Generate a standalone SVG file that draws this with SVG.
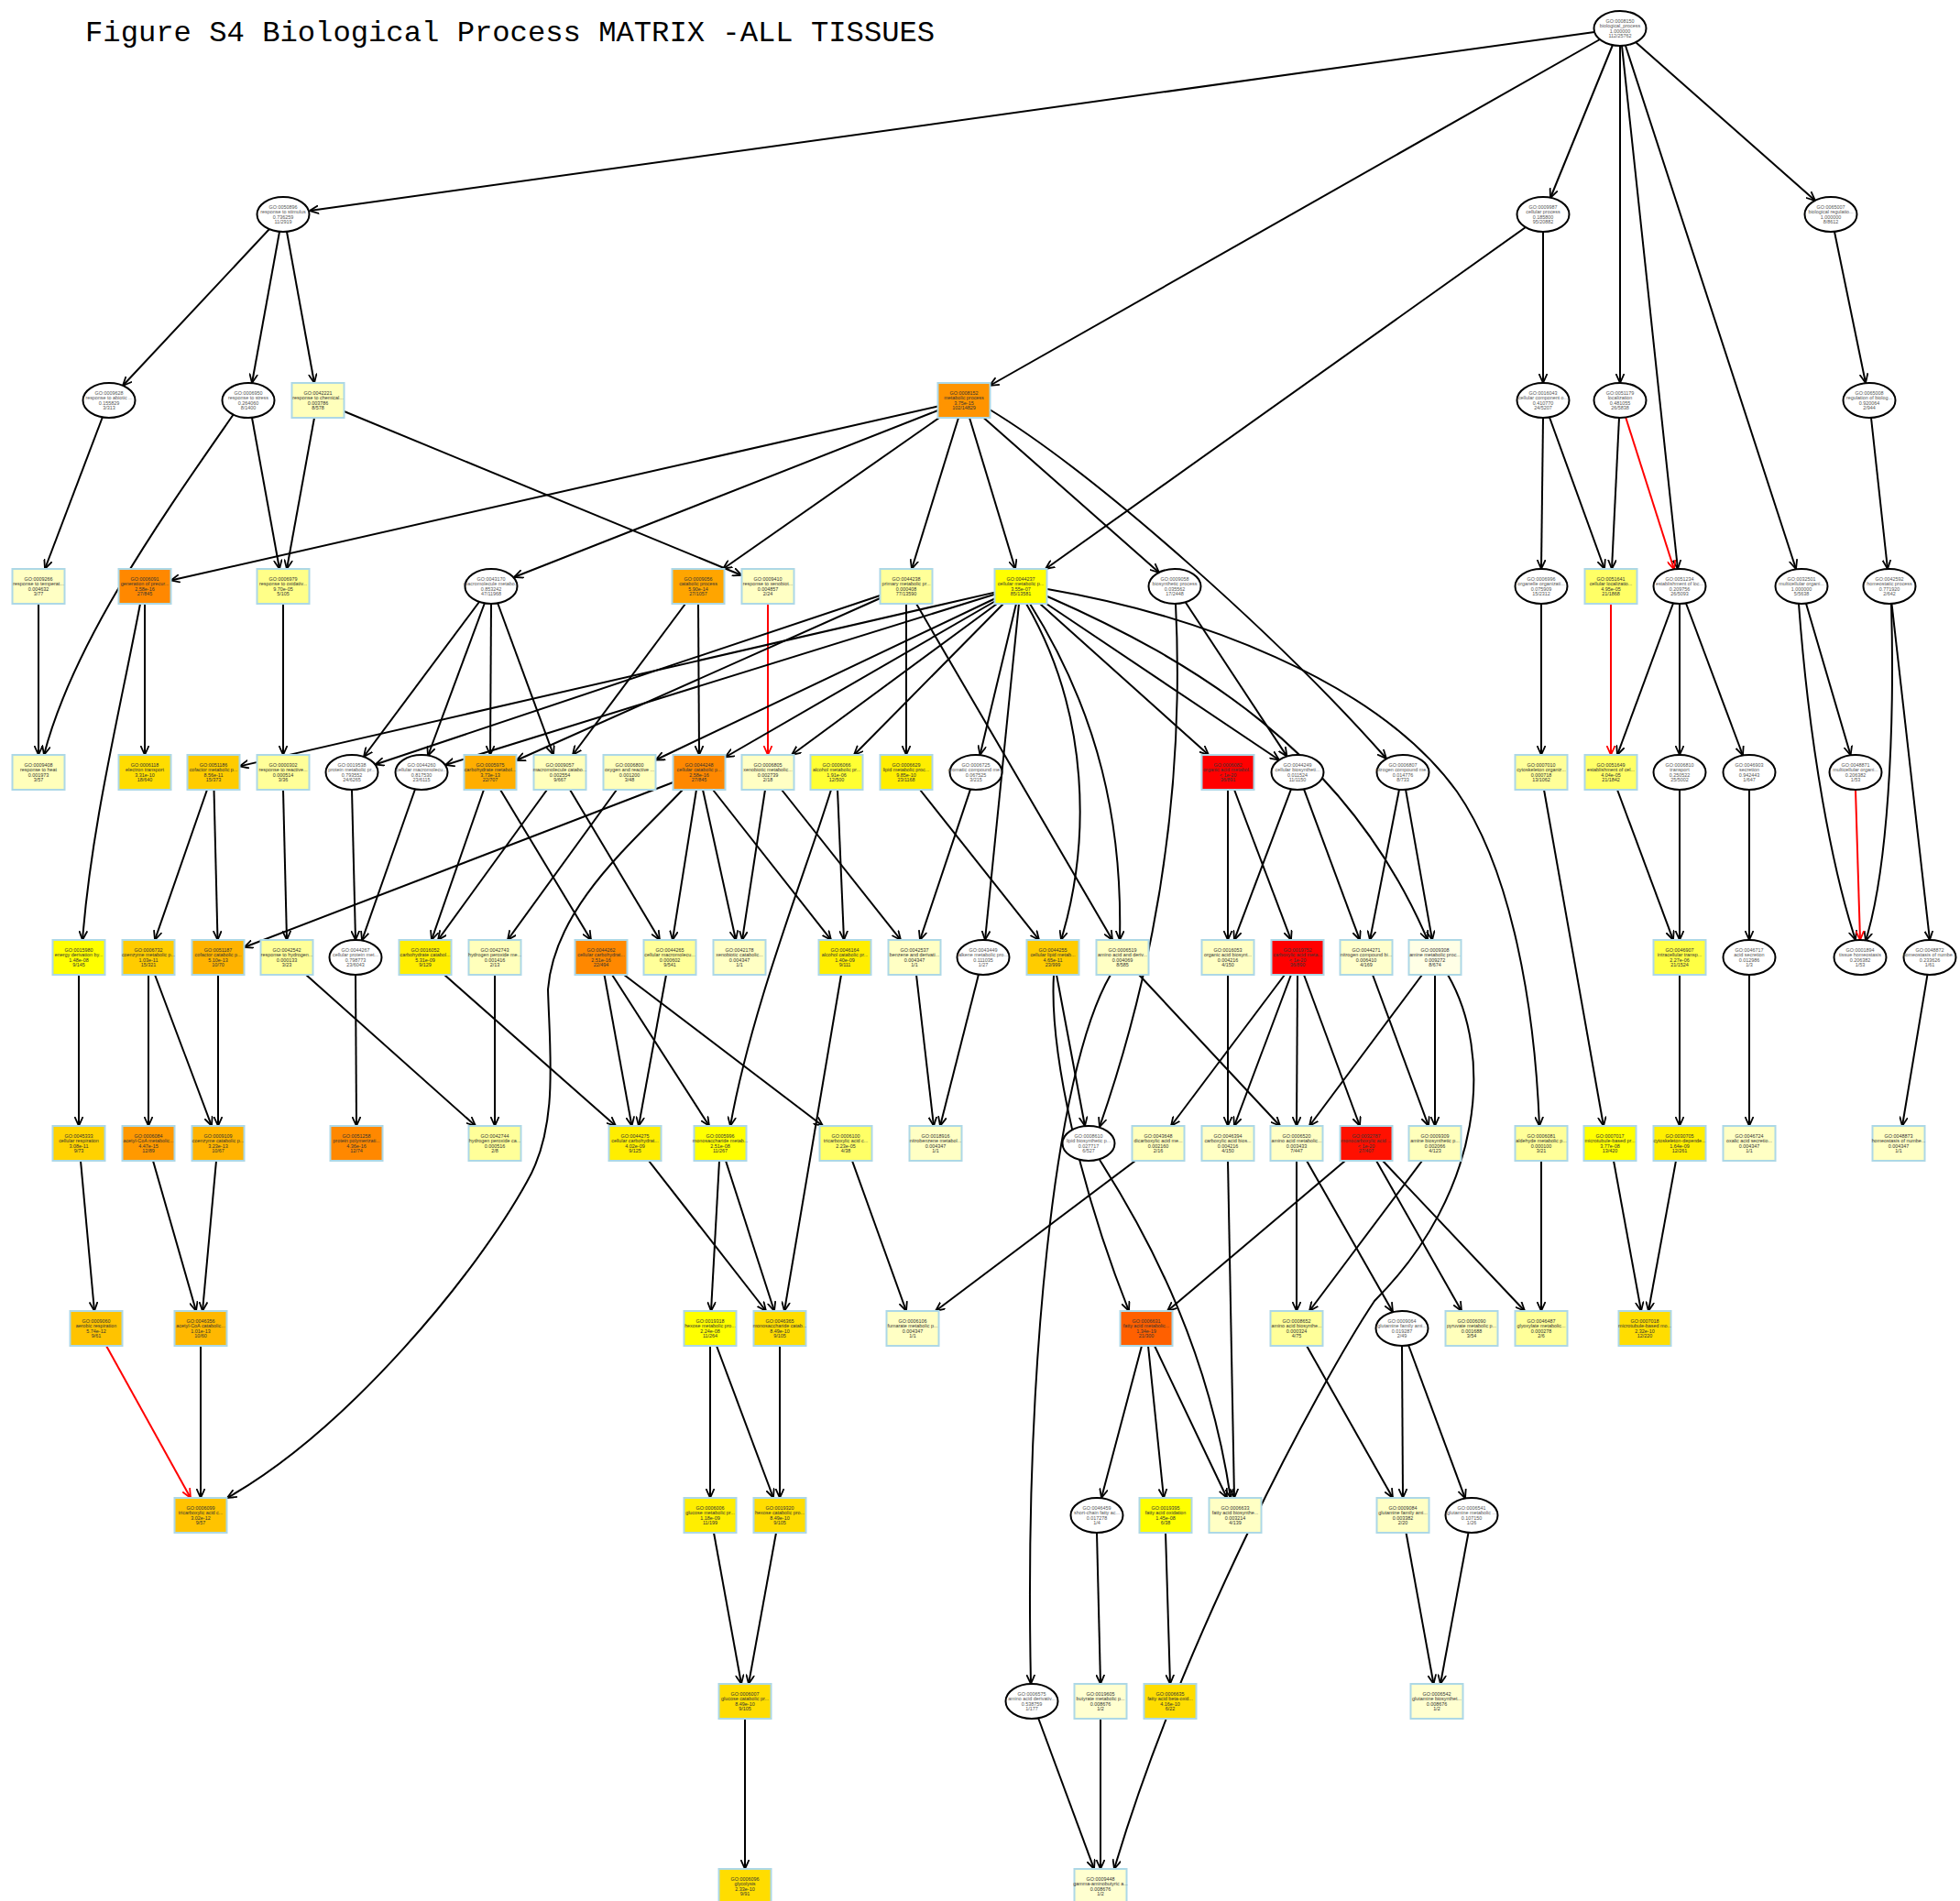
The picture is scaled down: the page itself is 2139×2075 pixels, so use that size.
<svg xmlns="http://www.w3.org/2000/svg" width="2139" height="2075" viewBox="0 0 2139 2075">
<defs>
<marker id="ab" viewBox="0 0 10 10" refX="10" refY="5" markerWidth="10" markerHeight="10" markerUnits="userSpaceOnUse" orient="auto"><path d="M0,0.5 L10,5 L0,9.5" fill="none" stroke="#000" stroke-width="1.8"/></marker>
<marker id="ar" viewBox="0 0 10 10" refX="10" refY="5" markerWidth="10" markerHeight="10" markerUnits="userSpaceOnUse" orient="auto"><path d="M0,0.5 L10,5 L0,9.5" fill="none" stroke="#f00" stroke-width="1.8"/></marker>
<style>
.ed path{fill:none;stroke:#000;stroke-width:2;marker-end:url(#ab)}
.ed path.r{stroke:#f00;marker-end:url(#ar)}
.b{stroke:#add8e6;stroke-width:2}
.e{fill:#fff;stroke:#000;stroke-width:2}
text.t{font-family:"Liberation Sans",Arial,sans-serif;font-size:5.4px;text-anchor:middle;fill:#333}
text.te{font-family:"Liberation Sans",Arial,sans-serif;font-size:5.4px;text-anchor:middle;fill:#555}
.title{font-family:"Liberation Mono","Courier New",monospace;font-size:32.2px;fill:#000}
</style>
</defs>
<rect width="2139" height="2075" fill="#fff"/>
<text class="title" x="93" y="45">Figure S4 Biological Process MATRIX -ALL TISSUES</text>
<g id="edges" class="ed">
<path d="M1740,35 L338,230"/>
<path d="M1746,43 L1080,421"/>
<path d="M1760,49 L1692,216"/>
<path d="M1768,50 L1768,418"/>
<path d="M1770,50 L1831,621"/>
<path d="M1774,50 L1960,621"/>
<path d="M1785,46 L1981,219"/>
<path d="M294,250 L134,421"/>
<path d="M305,253 L275,418"/>
<path d="M313,253 L343,418"/>
<path d="M1665,248 L1141,621"/>
<path d="M1684,253 L1684,418"/>
<path d="M2002,253 L2036,418"/>
<path d="M112,455 L49,621"/>
<path d="M255,452 C180,560 80,700 48,824"/>
<path d="M275,456 L305,621"/>
<path d="M343,456 L313,621"/>
<path d="M375.5,449 L809.5,628"/>
<path d="M1023.5,443.5 L186.5,633.5"/>
<path d="M1023.5,448 L561,630"/>
<path d="M1025,456 L789,621"/>
<path d="M1046,456 L995,621"/>
<path d="M1058,456 L1108,621"/>
<path d="M1073.5,456 L1265,625"/>
<path d="M1080,447 C1200,520 1400,700 1513,828"/>
<path d="M1684,456 L1682,621"/>
<path d="M1691,455.5 L1751,621"/>
<path d="M1767,456 L1759,621"/>
<path class="r" d="M1774,455 L1827,621.5"/>
<path d="M2042,456 L2060,621"/>
<path d="M42,659 L42,824"/>
<path d="M158,659 L158,824"/>
<path d="M153,659 C130,780 100,900 90,1026"/>
<path d="M309,659 L309,824"/>
<path d="M523,657 L397,826"/>
<path d="M529,658 L467,825"/>
<path d="M536,659 L535,824"/>
<path d="M543,658 L604,824"/>
<path d="M748,659 L625,824"/>
<path d="M762,659 L763,824"/>
<path class="r" d="M838,659 L838,824"/>
<path d="M960.5,650 L409.5,834.5"/>
<path d="M960.5,653 L563.5,830"/>
<path d="M989,659 L989,824"/>
<path d="M1000,659 L1214,1026"/>
<path d="M1085.5,646.6 L261.5,836.4"/>
<path d="M1085.5,648.8 L486,835"/>
<path d="M1085.5,653.5 L715.5,829.5"/>
<path d="M1085.5,656.5 L791.5,826.5"/>
<path d="M1088,659 L864,824"/>
<path d="M1095,659 L932,824"/>
<path d="M1109,659 L1069.5,824"/>
<path d="M1112,659 L1075,1026"/>
<path d="M1120,659 C1190,780 1190,920 1158,1026"/>
<path d="M1124,659 C1200,780 1225,900 1222,1026"/>
<path d="M1135,659 L1319,824"/>
<path d="M1142,659 L1396,829.5"/>
<path d="M1143,651 C1300,720 1470,820 1558,1026"/>
<path d="M1143,643 C1300,670 1500,740 1590,864 C1650,950 1675,1100 1680,1229"/>
<path d="M1293.5,657 L1404.5,825.6"/>
<path d="M1283,659 C1290,800 1280,1000 1200,1230"/>
<path d="M1340,862 L1340,1026"/>
<path d="M1347,862 L1409,1026"/>
<path d="M1409,861.4 L1347,1026"/>
<path d="M1423,861.4 L1484,1026"/>
<path d="M1527,861.7 L1495,1026"/>
<path d="M1534,861.7 L1563,1026"/>
<path d="M1682,659 L1682,824"/>
<path class="r" d="M1758,659 L1758,824"/>
<path d="M1826,658.5 L1765,824"/>
<path d="M1833,659 L1833,824"/>
<path d="M1840,658.5 L1902,824.5"/>
<path d="M1971,658.7 L2019.6,824.3"/>
<path d="M1963,659 C1975,820 2000,950 2025,1026"/>
<path d="M2064,659 C2068,800 2060,950 2036,1027"/>
<path d="M2064.5,659 L2106,1026"/>
<path d="M1833,862 L1833,1026"/>
<path d="M1765,862 L1826,1026"/>
<path d="M1909,862 L1909,1026"/>
<path class="r" d="M2025,862 L2030,1026"/>
<path d="M86,1064 L86,1229"/>
<path d="M162,1064 L162,1229"/>
<path d="M169,1064 L231,1229"/>
<path d="M238,1064 L238,1229"/>
<path d="M226,862 L169,1026"/>
<path d="M233.5,862 L237.5,1026"/>
<path d="M309,862 L313,1026"/>
<path d="M384,862 L388,1026"/>
<path d="M453,861.5 L395,1026.5"/>
<path d="M528,862 L471,1026"/>
<path d="M546,862 L645,1026"/>
<path d="M597,862 L478,1026"/>
<path d="M622,862 L720,1026"/>
<path d="M673,862 L554,1026"/>
<path d="M734.5,854 L266.5,1034"/>
<path d="M760,862 L734,1026"/>
<path d="M767,862 L803,1026"/>
<path d="M778,862 L907,1026"/>
<path d="M745,862 C690,920 605,990 598,1080 C600,1150 610,1230 575,1290 C520,1390 380,1560 248,1635"/>
<path d="M835,862 L810,1026"/>
<path d="M853,862 L983,1026"/>
<path d="M914,862 L921,1026"/>
<path d="M907,862 C880,950 820,1100 797,1229"/>
<path d="M1004,862 L1134,1026"/>
<path d="M1059,861.6 L1004,1026"/>
<path d="M1068,1063.4 L1026,1229"/>
<path d="M1000,1064 L1019,1229"/>
<path d="M1153,1064 L1184,1229"/>
<path d="M1150,1064 C1145,1150 1180,1300 1232,1431"/>
<path d="M1243,1064 L1397,1229"/>
<path d="M1212,1064 C1150,1170 1118,1500 1125,1838"/>
<path d="M1340,1064 L1340,1229"/>
<path d="M1409,1064 L1347,1229"/>
<path d="M1416,1064 L1415,1229"/>
<path d="M1423,1064 L1484,1229"/>
<path d="M1402,1064 L1278,1229"/>
<path d="M1552,1064 L1429,1229"/>
<path d="M1566,1064 L1566,1229"/>
<path d="M1498,1064 L1559,1229"/>
<path d="M1580,1064 C1630,1150 1620,1300 1500,1420 C1440,1510 1290,1790 1216,2040"/>
<path d="M1239,1267 L1021,1431"/>
<path d="M930,1267 L989,1431"/>
<path d="M681,1064 L898,1229"/>
<path d="M668,1064 L774,1229"/>
<path d="M659.5,1064 L689.5,1229"/>
<path d="M485,1064 L672,1229"/>
<path d="M727,1064 L697,1229"/>
<path d="M918,1064 L856,1431"/>
<path d="M334,1064 L519,1229"/>
<path d="M540,1064 L540,1229"/>
<path d="M388,1064 L389,1229"/>
<path d="M785,1267 L776,1431"/>
<path d="M792,1267 L845,1431"/>
<path d="M708,1267 L836,1431"/>
<path d="M88,1267 L103,1431"/>
<path d="M167,1267 L214,1431"/>
<path d="M236,1267 L221,1431"/>
<path d="M1200,1266 C1260,1360 1320,1480 1343,1635"/>
<path d="M1340,1267 L1347,1635"/>
<path d="M1246,1469 L1202,1635"/>
<path d="M1253,1469 L1270,1635"/>
<path d="M1260,1469 L1339,1635"/>
<path d="M1468,1267 L1274,1431"/>
<path d="M1502,1267 L1595,1431"/>
<path d="M1509,1267 L1664,1431"/>
<path d="M1415,1267 L1415,1431"/>
<path d="M1426,1267 L1520,1432"/>
<path d="M1552,1267 L1429,1431"/>
<path d="M1682,1267 L1682,1431"/>
<path d="M1761,1267 L1791,1431"/>
<path d="M1829,1267 L1799,1431"/>
<path d="M1833,1064 L1833,1229"/>
<path d="M1685,862 L1750,1229"/>
<path d="M1909,1064 L1909,1229"/>
<path d="M2103.5,1063.7 L2076,1229"/>
<path class="r" d="M116,1469 L208,1635"/>
<path d="M219,1469 L219,1635"/>
<path d="M775,1469 L775,1635"/>
<path d="M782,1469 L844,1635"/>
<path d="M851,1469 L851,1635"/>
<path d="M1426,1469 L1520,1635"/>
<path d="M1530,1469 L1531,1635"/>
<path d="M1537,1468 L1599,1635.6"/>
<path d="M779,1673 L809,1838"/>
<path d="M847,1673 L817,1838"/>
<path d="M1197,1673 L1201,1838"/>
<path d="M1272,1673 L1277,1838"/>
<path d="M1534.5,1673 L1564.5,1838"/>
<path d="M1602.5,1673 L1572,1838"/>
<path d="M813,1876 L813,2040"/>
<path d="M1133,1875 L1194,2040"/>
<path d="M1201,1876 L1201,2040"/>
</g>
<g id="nodes">
<g id="n0008150"><ellipse class="e" cx="1768" cy="31" rx="28.5" ry="19"/><text class="te" y="24.8"><tspan x="1768">GO:0008150</tspan><tspan x="1768" dy="5.5">biological_process</tspan><tspan x="1768" dy="5.5">1.000000</tspan><tspan x="1768" dy="5.5">112/25762</tspan></text></g>
<g id="n0050896"><ellipse class="e" cx="309" cy="234" rx="28.5" ry="19"/><text class="te" y="227.8"><tspan x="309">GO:0050896</tspan><tspan x="309" dy="5.5">response to stimulus</tspan><tspan x="309" dy="5.5">0.736259</tspan><tspan x="309" dy="5.5">11/2919</tspan></text></g>
<g id="n0009987"><ellipse class="e" cx="1684" cy="234" rx="28.5" ry="19"/><text class="te" y="227.8"><tspan x="1684">GO:0009987</tspan><tspan x="1684" dy="5.5">cellular process</tspan><tspan x="1684" dy="5.5">0.185800</tspan><tspan x="1684" dy="5.5">95/20882</tspan></text></g>
<g id="n0065007"><ellipse class="e" cx="1998" cy="234" rx="28.5" ry="19"/><text class="te" y="227.8"><tspan x="1998">GO:0065007</tspan><tspan x="1998" dy="5.5">biological regulatio...</tspan><tspan x="1998" dy="5.5">1.000000</tspan><tspan x="1998" dy="5.5">8/8612</tspan></text></g>
<g id="n0009628"><ellipse class="e" cx="119" cy="437" rx="28.5" ry="19"/><text class="te" y="430.8"><tspan x="119">GO:0009628</tspan><tspan x="119" dy="5.5">response to abiotic ...</tspan><tspan x="119" dy="5.5">0.155829</tspan><tspan x="119" dy="5.5">3/313</tspan></text></g>
<g id="n0006950"><ellipse class="e" cx="271" cy="437" rx="28.5" ry="19"/><text class="te" y="430.8"><tspan x="271">GO:0006950</tspan><tspan x="271" dy="5.5">response to stress</tspan><tspan x="271" dy="5.5">0.264060</tspan><tspan x="271" dy="5.5">8/1400</tspan></text></g>
<g id="n0042221"><rect class="b" x="318.5" y="418" width="57" height="38" fill="#ffffbb"/><text class="t" y="430.8"><tspan x="347">GO:0042221</tspan><tspan x="347" dy="5.5">response to chemical...</tspan><tspan x="347" dy="5.5">0.003786</tspan><tspan x="347" dy="5.5">8/578</tspan></text></g>
<g id="n0008152"><rect class="b" x="1023.5" y="418" width="57" height="38" fill="#ff9400"/><text class="t" y="430.8"><tspan x="1052">GO:0008152</tspan><tspan x="1052" dy="5.5">metabolic process</tspan><tspan x="1052" dy="5.5">3.75e-15</tspan><tspan x="1052" dy="5.5">102/14829</tspan></text></g>
<g id="n0016043"><ellipse class="e" cx="1684" cy="437" rx="28.5" ry="19"/><text class="te" y="430.8"><tspan x="1684">GO:0016043</tspan><tspan x="1684" dy="5.5">cellular component o...</tspan><tspan x="1684" dy="5.5">0.410770</tspan><tspan x="1684" dy="5.5">24/5207</tspan></text></g>
<g id="n0051179"><ellipse class="e" cx="1768" cy="437" rx="28.5" ry="19"/><text class="te" y="430.8"><tspan x="1768">GO:0051179</tspan><tspan x="1768" dy="5.5">localization</tspan><tspan x="1768" dy="5.5">0.481055</tspan><tspan x="1768" dy="5.5">26/5838</tspan></text></g>
<g id="n0065008"><ellipse class="e" cx="2040" cy="437" rx="28.5" ry="19"/><text class="te" y="430.8"><tspan x="2040">GO:0065008</tspan><tspan x="2040" dy="5.5">regulation of biolog...</tspan><tspan x="2040" dy="5.5">0.920064</tspan><tspan x="2040" dy="5.5">2/944</tspan></text></g>
<g id="n0009266"><rect class="b" x="13.5" y="621" width="57" height="38" fill="#ffffc4"/><text class="t" y="633.8"><tspan x="42">GO:0009266</tspan><tspan x="42" dy="5.5">response to temperat...</tspan><tspan x="42" dy="5.5">0.004632</tspan><tspan x="42" dy="5.5">3/77</tspan></text></g>
<g id="n0006091"><rect class="b" x="129.5" y="621" width="57" height="38" fill="#ff8800"/><text class="t" y="633.8"><tspan x="158">GO:0006091</tspan><tspan x="158" dy="5.5">generation of precur...</tspan><tspan x="158" dy="5.5">2.58e-16</tspan><tspan x="158" dy="5.5">27/845</tspan></text></g>
<g id="n0006979"><rect class="b" x="280.5" y="621" width="57" height="38" fill="#ffff88"/><text class="t" y="633.8"><tspan x="309">GO:0006979</tspan><tspan x="309" dy="5.5">response to oxidativ...</tspan><tspan x="309" dy="5.5">9.70e-05</tspan><tspan x="309" dy="5.5">5/105</tspan></text></g>
<g id="n0043170"><ellipse class="e" cx="536" cy="640" rx="28.5" ry="19"/><text class="te" y="633.8"><tspan x="536">GO:0043170</tspan><tspan x="536" dy="5.5">macromolecule metabo...</tspan><tspan x="536" dy="5.5">0.853242</tspan><tspan x="536" dy="5.5">47/11968</tspan></text></g>
<g id="n0009056"><rect class="b" x="733.5" y="621" width="57" height="38" fill="#ffa500"/><text class="t" y="633.8"><tspan x="762">GO:0009056</tspan><tspan x="762" dy="5.5">catabolic process</tspan><tspan x="762" dy="5.5">5.90e-14</tspan><tspan x="762" dy="5.5">27/1057</tspan></text></g>
<g id="n0009410"><rect class="b" x="809.5" y="621" width="57" height="38" fill="#ffffc4"/><text class="t" y="633.8"><tspan x="838">GO:0009410</tspan><tspan x="838" dy="5.5">response to xenobiot...</tspan><tspan x="838" dy="5.5">0.004857</tspan><tspan x="838" dy="5.5">2/24</tspan></text></g>
<g id="n0044238"><rect class="b" x="960.5" y="621" width="57" height="38" fill="#ffff99"/><text class="t" y="633.8"><tspan x="989">GO:0044238</tspan><tspan x="989" dy="5.5">primary metabolic pr...</tspan><tspan x="989" dy="5.5">0.000408</tspan><tspan x="989" dy="5.5">77/13590</tspan></text></g>
<g id="n0044237"><rect class="b" x="1085.5" y="621" width="57" height="38" fill="#ffff00"/><text class="t" y="633.8"><tspan x="1114">GO:0044237</tspan><tspan x="1114" dy="5.5">cellular metabolic p...</tspan><tspan x="1114" dy="5.5">3.55e-07</tspan><tspan x="1114" dy="5.5">85/13581</tspan></text></g>
<g id="n0009058"><ellipse class="e" cx="1282" cy="640" rx="28.5" ry="19"/><text class="te" y="633.8"><tspan x="1282">GO:0009058</tspan><tspan x="1282" dy="5.5">biosynthetic process</tspan><tspan x="1282" dy="5.5">0.035562</tspan><tspan x="1282" dy="5.5">17/2448</tspan></text></g>
<g id="n0006996"><ellipse class="e" cx="1682" cy="640" rx="28.5" ry="19"/><text class="te" y="633.8"><tspan x="1682">GO:0006996</tspan><tspan x="1682" dy="5.5">organelle organizati...</tspan><tspan x="1682" dy="5.5">0.075909</tspan><tspan x="1682" dy="5.5">15/2312</tspan></text></g>
<g id="n0051641"><rect class="b" x="1729.5" y="621" width="57" height="38" fill="#ffff66"/><text class="t" y="633.8"><tspan x="1758">GO:0051641</tspan><tspan x="1758" dy="5.5">cellular localizatio...</tspan><tspan x="1758" dy="5.5">4.95e-05</tspan><tspan x="1758" dy="5.5">21/1868</tspan></text></g>
<g id="n0051234"><ellipse class="e" cx="1833" cy="640" rx="28.5" ry="19"/><text class="te" y="633.8"><tspan x="1833">GO:0051234</tspan><tspan x="1833" dy="5.5">establishment of loc...</tspan><tspan x="1833" dy="5.5">0.209756</tspan><tspan x="1833" dy="5.5">26/5093</tspan></text></g>
<g id="n0032501"><ellipse class="e" cx="1966" cy="640" rx="28.5" ry="19"/><text class="te" y="633.8"><tspan x="1966">GO:0032501</tspan><tspan x="1966" dy="5.5">multicellular organi...</tspan><tspan x="1966" dy="5.5">1.000000</tspan><tspan x="1966" dy="5.5">5/5638</tspan></text></g>
<g id="n0042592"><ellipse class="e" cx="2062" cy="640" rx="28.5" ry="19"/><text class="te" y="633.8"><tspan x="2062">GO:0042592</tspan><tspan x="2062" dy="5.5">homeostatic process</tspan><tspan x="2062" dy="5.5">0.771920</tspan><tspan x="2062" dy="5.5">2/642</tspan></text></g>
<g id="n0009408"><rect class="b" x="13.5" y="824" width="57" height="38" fill="#ffffbb"/><text class="t" y="836.8"><tspan x="42">GO:0009408</tspan><tspan x="42" dy="5.5">response to heat</tspan><tspan x="42" dy="5.5">0.001973</tspan><tspan x="42" dy="5.5">3/57</tspan></text></g>
<g id="n0006118"><rect class="b" x="129.5" y="824" width="57" height="38" fill="#ffdd00"/><text class="t" y="836.8"><tspan x="158">GO:0006118</tspan><tspan x="158" dy="5.5">electron transport</tspan><tspan x="158" dy="5.5">3.31e-10</tspan><tspan x="158" dy="5.5">18/640</tspan></text></g>
<g id="n0051186"><rect class="b" x="204.5" y="824" width="57" height="38" fill="#ffcc00"/><text class="t" y="836.8"><tspan x="233">GO:0051186</tspan><tspan x="233" dy="5.5">cofactor metabolic p...</tspan><tspan x="233" dy="5.5">8.56e-11</tspan><tspan x="233" dy="5.5">15/373</tspan></text></g>
<g id="n0000302"><rect class="b" x="280.5" y="824" width="57" height="38" fill="#ffff99"/><text class="t" y="836.8"><tspan x="309">GO:0000302</tspan><tspan x="309" dy="5.5">response to reactive...</tspan><tspan x="309" dy="5.5">0.000514</tspan><tspan x="309" dy="5.5">3/36</tspan></text></g>
<g id="n0019538"><ellipse class="e" cx="384" cy="843" rx="28.5" ry="19"/><text class="te" y="836.8"><tspan x="384">GO:0019538</tspan><tspan x="384" dy="5.5">protein metabolic pr...</tspan><tspan x="384" dy="5.5">0.793552</tspan><tspan x="384" dy="5.5">24/6265</tspan></text></g>
<g id="n0044260"><ellipse class="e" cx="460" cy="843" rx="28.5" ry="19"/><text class="te" y="836.8"><tspan x="460">GO:0044260</tspan><tspan x="460" dy="5.5">cellular macromolecu...</tspan><tspan x="460" dy="5.5">0.817530</tspan><tspan x="460" dy="5.5">23/6115</tspan></text></g>
<g id="n0005975"><rect class="b" x="506.5" y="824" width="57" height="38" fill="#ffae00"/><text class="t" y="836.8"><tspan x="535">GO:0005975</tspan><tspan x="535" dy="5.5">carbohydrate metabol...</tspan><tspan x="535" dy="5.5">3.73e-13</tspan><tspan x="535" dy="5.5">22/707</tspan></text></g>
<g id="n0009057"><rect class="b" x="582.5" y="824" width="57" height="38" fill="#ffffbb"/><text class="t" y="836.8"><tspan x="611">GO:0009057</tspan><tspan x="611" dy="5.5">macromolecule catabo...</tspan><tspan x="611" dy="5.5">0.002554</tspan><tspan x="611" dy="5.5">9/667</tspan></text></g>
<g id="n0006800"><rect class="b" x="658.5" y="824" width="57" height="38" fill="#ffffbb"/><text class="t" y="836.8"><tspan x="687">GO:0006800</tspan><tspan x="687" dy="5.5">oxygen and reactive ...</tspan><tspan x="687" dy="5.5">0.001200</tspan><tspan x="687" dy="5.5">3/48</tspan></text></g>
<g id="n0044248"><rect class="b" x="734.5" y="824" width="57" height="38" fill="#ff8800"/><text class="t" y="836.8"><tspan x="763">GO:0044248</tspan><tspan x="763" dy="5.5">cellular catabolic p...</tspan><tspan x="763" dy="5.5">2.58e-16</tspan><tspan x="763" dy="5.5">27/845</tspan></text></g>
<g id="n0006805"><rect class="b" x="809.5" y="824" width="57" height="38" fill="#ffffc4"/><text class="t" y="836.8"><tspan x="838">GO:0006805</tspan><tspan x="838" dy="5.5">xenobiotic metabolic...</tspan><tspan x="838" dy="5.5">0.002739</tspan><tspan x="838" dy="5.5">2/18</tspan></text></g>
<g id="n0006066"><rect class="b" x="884.5" y="824" width="57" height="38" fill="#ffff33"/><text class="t" y="836.8"><tspan x="913">GO:0006066</tspan><tspan x="913" dy="5.5">alcohol metabolic pr...</tspan><tspan x="913" dy="5.5">1.91e-06</tspan><tspan x="913" dy="5.5">12/500</tspan></text></g>
<g id="n0006629"><rect class="b" x="960.5" y="824" width="57" height="38" fill="#ffee00"/><text class="t" y="836.8"><tspan x="989">GO:0006629</tspan><tspan x="989" dy="5.5">lipid metabolic proc...</tspan><tspan x="989" dy="5.5">9.85e-10</tspan><tspan x="989" dy="5.5">23/1168</tspan></text></g>
<g id="n0006725"><ellipse class="e" cx="1065" cy="843" rx="28.5" ry="19"/><text class="te" y="836.8"><tspan x="1065">GO:0006725</tspan><tspan x="1065" dy="5.5">aromatic compound me...</tspan><tspan x="1065" dy="5.5">0.067525</tspan><tspan x="1065" dy="5.5">3/215</tspan></text></g>
<g id="n0006082"><rect class="b" x="1311.5" y="824" width="57" height="38" fill="#ff0000"/><text class="t" y="836.8"><tspan x="1340">GO:0006082</tspan><tspan x="1340" dy="5.5">organic acid metabol...</tspan><tspan x="1340" dy="5.5">&lt; 1e-20</tspan><tspan x="1340" dy="5.5">36/891</tspan></text></g>
<g id="n0044249"><ellipse class="e" cx="1416" cy="843" rx="28.5" ry="19"/><text class="te" y="836.8"><tspan x="1416">GO:0044249</tspan><tspan x="1416" dy="5.5">cellular biosyntheti...</tspan><tspan x="1416" dy="5.5">0.011524</tspan><tspan x="1416" dy="5.5">11/1150</tspan></text></g>
<g id="n0006807"><ellipse class="e" cx="1531" cy="843" rx="28.5" ry="19"/><text class="te" y="836.8"><tspan x="1531">GO:0006807</tspan><tspan x="1531" dy="5.5">nitrogen compound me...</tspan><tspan x="1531" dy="5.5">0.014776</tspan><tspan x="1531" dy="5.5">8/733</tspan></text></g>
<g id="n0007010"><rect class="b" x="1653.5" y="824" width="57" height="38" fill="#ffff99"/><text class="t" y="836.8"><tspan x="1682">GO:0007010</tspan><tspan x="1682" dy="5.5">cytoskeleton organiz...</tspan><tspan x="1682" dy="5.5">0.000718</tspan><tspan x="1682" dy="5.5">13/1062</tspan></text></g>
<g id="n0051649"><rect class="b" x="1729.5" y="824" width="57" height="38" fill="#ffff66"/><text class="t" y="836.8"><tspan x="1758">GO:0051649</tspan><tspan x="1758" dy="5.5">establishment of cel...</tspan><tspan x="1758" dy="5.5">4.04e-05</tspan><tspan x="1758" dy="5.5">21/1842</tspan></text></g>
<g id="n0006810"><ellipse class="e" cx="1833" cy="843" rx="28.5" ry="19"/><text class="te" y="836.8"><tspan x="1833">GO:0006810</tspan><tspan x="1833" dy="5.5">transport</tspan><tspan x="1833" dy="5.5">0.250522</tspan><tspan x="1833" dy="5.5">25/5002</tspan></text></g>
<g id="n0046903"><ellipse class="e" cx="1909" cy="843" rx="28.5" ry="19"/><text class="te" y="836.8"><tspan x="1909">GO:0046903</tspan><tspan x="1909" dy="5.5">secretion</tspan><tspan x="1909" dy="5.5">0.942443</tspan><tspan x="1909" dy="5.5">1/647</tspan></text></g>
<g id="n0048871"><ellipse class="e" cx="2025" cy="843" rx="28.5" ry="19"/><text class="te" y="836.8"><tspan x="2025">GO:0048871</tspan><tspan x="2025" dy="5.5">multicellular organi...</tspan><tspan x="2025" dy="5.5">0.206382</tspan><tspan x="2025" dy="5.5">1/53</tspan></text></g>
<g id="n0015980"><rect class="b" x="57.5" y="1026" width="57" height="38" fill="#ffff00"/><text class="t" y="1038.8"><tspan x="86">GO:0015980</tspan><tspan x="86" dy="5.5">energy derivation by...</tspan><tspan x="86" dy="5.5">1.48e-08</tspan><tspan x="86" dy="5.5">9/145</tspan></text></g>
<g id="n0006732"><rect class="b" x="133.5" y="1026" width="57" height="38" fill="#ffcc00"/><text class="t" y="1038.8"><tspan x="162">GO:0006732</tspan><tspan x="162" dy="5.5">coenzyme metabolic p...</tspan><tspan x="162" dy="5.5">1.03e-11</tspan><tspan x="162" dy="5.5">15/321</tspan></text></g>
<g id="n0051187"><rect class="b" x="209.5" y="1026" width="57" height="38" fill="#ffb300"/><text class="t" y="1038.8"><tspan x="238">GO:0051187</tspan><tspan x="238" dy="5.5">cofactor catabolic p...</tspan><tspan x="238" dy="5.5">5.10e-13</tspan><tspan x="238" dy="5.5">10/70</tspan></text></g>
<g id="n0042542"><rect class="b" x="284.5" y="1026" width="57" height="38" fill="#ffff99"/><text class="t" y="1038.8"><tspan x="313">GO:0042542</tspan><tspan x="313" dy="5.5">response to hydrogen...</tspan><tspan x="313" dy="5.5">0.000133</tspan><tspan x="313" dy="5.5">3/23</tspan></text></g>
<g id="n0044267"><ellipse class="e" cx="388" cy="1045" rx="28.5" ry="19"/><text class="te" y="1038.8"><tspan x="388">GO:0044267</tspan><tspan x="388" dy="5.5">cellular protein met...</tspan><tspan x="388" dy="5.5">0.798773</tspan><tspan x="388" dy="5.5">23/6043</tspan></text></g>
<g id="n0016052"><rect class="b" x="435.5" y="1026" width="57" height="38" fill="#ffee00"/><text class="t" y="1038.8"><tspan x="464">GO:0016052</tspan><tspan x="464" dy="5.5">carbohydrate catabol...</tspan><tspan x="464" dy="5.5">5.31e-09</tspan><tspan x="464" dy="5.5">9/129</tspan></text></g>
<g id="n0042743"><rect class="b" x="511.5" y="1026" width="57" height="38" fill="#ffffbb"/><text class="t" y="1038.8"><tspan x="540">GO:0042743</tspan><tspan x="540" dy="5.5">hydrogen peroxide me...</tspan><tspan x="540" dy="5.5">0.001416</tspan><tspan x="540" dy="5.5">2/13</tspan></text></g>
<g id="n0044262"><rect class="b" x="627.5" y="1026" width="57" height="38" fill="#ff8800"/><text class="t" y="1038.8"><tspan x="656">GO:0044262</tspan><tspan x="656" dy="5.5">cellular carbohydrat...</tspan><tspan x="656" dy="5.5">2.51e-16</tspan><tspan x="656" dy="5.5">22/494</tspan></text></g>
<g id="n0044265"><rect class="b" x="702.5" y="1026" width="57" height="38" fill="#ffff99"/><text class="t" y="1038.8"><tspan x="731">GO:0044265</tspan><tspan x="731" dy="5.5">cellular macromolecu...</tspan><tspan x="731" dy="5.5">0.000602</tspan><tspan x="731" dy="5.5">9/541</tspan></text></g>
<g id="n0042178"><rect class="b" x="778.5" y="1026" width="57" height="38" fill="#ffffc4"/><text class="t" y="1038.8"><tspan x="807">GO:0042178</tspan><tspan x="807" dy="5.5">xenobiotic catabolic...</tspan><tspan x="807" dy="5.5">0.004347</tspan><tspan x="807" dy="5.5">1/1</tspan></text></g>
<g id="n0046164"><rect class="b" x="893.5" y="1026" width="57" height="38" fill="#ffee00"/><text class="t" y="1038.8"><tspan x="922">GO:0046164</tspan><tspan x="922" dy="5.5">alcohol catabolic pr...</tspan><tspan x="922" dy="5.5">1.40e-09</tspan><tspan x="922" dy="5.5">9/111</tspan></text></g>
<g id="n0042537"><rect class="b" x="969.5" y="1026" width="57" height="38" fill="#ffffc4"/><text class="t" y="1038.8"><tspan x="998">GO:0042537</tspan><tspan x="998" dy="5.5">benzene and derivati...</tspan><tspan x="998" dy="5.5">0.004347</tspan><tspan x="998" dy="5.5">1/1</tspan></text></g>
<g id="n0043449"><ellipse class="e" cx="1073" cy="1045" rx="28.5" ry="19"/><text class="te" y="1038.8"><tspan x="1073">GO:0043449</tspan><tspan x="1073" dy="5.5">alkene metabolic pro...</tspan><tspan x="1073" dy="5.5">0.111035</tspan><tspan x="1073" dy="5.5">1/27</tspan></text></g>
<g id="n0044255"><rect class="b" x="1120.5" y="1026" width="57" height="38" fill="#ffcc00"/><text class="t" y="1038.8"><tspan x="1149">GO:0044255</tspan><tspan x="1149" dy="5.5">cellular lipid metab...</tspan><tspan x="1149" dy="5.5">4.65e-11</tspan><tspan x="1149" dy="5.5">23/999</tspan></text></g>
<g id="n0006519"><rect class="b" x="1196.5" y="1026" width="57" height="38" fill="#ffffc4"/><text class="t" y="1038.8"><tspan x="1225">GO:0006519</tspan><tspan x="1225" dy="5.5">amino acid and deriv...</tspan><tspan x="1225" dy="5.5">0.004069</tspan><tspan x="1225" dy="5.5">8/585</tspan></text></g>
<g id="n0016053"><rect class="b" x="1311.5" y="1026" width="57" height="38" fill="#ffffc4"/><text class="t" y="1038.8"><tspan x="1340">GO:0016053</tspan><tspan x="1340" dy="5.5">organic acid biosynt...</tspan><tspan x="1340" dy="5.5">0.004216</tspan><tspan x="1340" dy="5.5">4/150</tspan></text></g>
<g id="n0019752"><rect class="b" x="1387.5" y="1026" width="57" height="38" fill="#ff0000"/><text class="t" y="1038.8"><tspan x="1416">GO:0019752</tspan><tspan x="1416" dy="5.5">carboxylic acid meta...</tspan><tspan x="1416" dy="5.5">&lt; 1e-20</tspan><tspan x="1416" dy="5.5">36/890</tspan></text></g>
<g id="n0044271"><rect class="b" x="1462.5" y="1026" width="57" height="38" fill="#ffffcc"/><text class="t" y="1038.8"><tspan x="1491">GO:0044271</tspan><tspan x="1491" dy="5.5">nitrogen compound bi...</tspan><tspan x="1491" dy="5.5">0.006410</tspan><tspan x="1491" dy="5.5">4/169</tspan></text></g>
<g id="n0009308"><rect class="b" x="1537.5" y="1026" width="57" height="38" fill="#ffffe6"/><text class="t" y="1038.8"><tspan x="1566">GO:0009308</tspan><tspan x="1566" dy="5.5">amine metabolic proc...</tspan><tspan x="1566" dy="5.5">0.009272</tspan><tspan x="1566" dy="5.5">8/674</tspan></text></g>
<g id="n0046907"><rect class="b" x="1804.5" y="1026" width="57" height="38" fill="#ffff44"/><text class="t" y="1038.8"><tspan x="1833">GO:0046907</tspan><tspan x="1833" dy="5.5">intracellular transp...</tspan><tspan x="1833" dy="5.5">2.27e-06</tspan><tspan x="1833" dy="5.5">21/1524</tspan></text></g>
<g id="n0046717"><ellipse class="e" cx="1909" cy="1045" rx="28.5" ry="19"/><text class="te" y="1038.8"><tspan x="1909">GO:0046717</tspan><tspan x="1909" dy="5.5">acid secretion</tspan><tspan x="1909" dy="5.5">0.012986</tspan><tspan x="1909" dy="5.5">1/3</tspan></text></g>
<g id="n0001894"><ellipse class="e" cx="2030" cy="1045" rx="28.5" ry="19"/><text class="te" y="1038.8"><tspan x="2030">GO:0001894</tspan><tspan x="2030" dy="5.5">tissue homeostasis</tspan><tspan x="2030" dy="5.5">0.206382</tspan><tspan x="2030" dy="5.5">1/53</tspan></text></g>
<g id="n0048872"><ellipse class="e" cx="2106" cy="1045" rx="28.5" ry="19"/><text class="te" y="1038.8"><tspan x="2106">GO:0048872</tspan><tspan x="2106" dy="5.5">homeostasis of numbe...</tspan><tspan x="2106" dy="5.5">0.233626</tspan><tspan x="2106" dy="5.5">1/61</tspan></text></g>
<g id="n0045333"><rect class="b" x="57.5" y="1229" width="57" height="38" fill="#ffd200"/><text class="t" y="1241.8"><tspan x="86">GO:0045333</tspan><tspan x="86" dy="5.5">cellular respiration</tspan><tspan x="86" dy="5.5">3.08e-11</tspan><tspan x="86" dy="5.5">9/73</tspan></text></g>
<g id="n0006084"><rect class="b" x="133.5" y="1229" width="57" height="38" fill="#ff9900"/><text class="t" y="1241.8"><tspan x="162">GO:0006084</tspan><tspan x="162" dy="5.5">acetyl-CoA metabolic...</tspan><tspan x="162" dy="5.5">4.47e-15</tspan><tspan x="162" dy="5.5">12/89</tspan></text></g>
<g id="n0009109"><rect class="b" x="209.5" y="1229" width="57" height="38" fill="#ffb300"/><text class="t" y="1241.8"><tspan x="238">GO:0009109</tspan><tspan x="238" dy="5.5">coenzyme catabolic p...</tspan><tspan x="238" dy="5.5">3.23e-13</tspan><tspan x="238" dy="5.5">10/67</tspan></text></g>
<g id="n0051258"><rect class="b" x="360.5" y="1229" width="57" height="38" fill="#ff8800"/><text class="t" y="1241.8"><tspan x="389">GO:0051258</tspan><tspan x="389" dy="5.5">protein polymerizati...</tspan><tspan x="389" dy="5.5">4.36e-16</tspan><tspan x="389" dy="5.5">12/74</tspan></text></g>
<g id="n0042744"><rect class="b" x="511.5" y="1229" width="57" height="38" fill="#ffff99"/><text class="t" y="1241.8"><tspan x="540">GO:0042744</tspan><tspan x="540" dy="5.5">hydrogen peroxide ca...</tspan><tspan x="540" dy="5.5">0.000516</tspan><tspan x="540" dy="5.5">2/8</tspan></text></g>
<g id="n0044275"><rect class="b" x="664.5" y="1229" width="57" height="38" fill="#ffee00"/><text class="t" y="1241.8"><tspan x="693">GO:0044275</tspan><tspan x="693" dy="5.5">cellular carbohydrat...</tspan><tspan x="693" dy="5.5">4.02e-09</tspan><tspan x="693" dy="5.5">9/125</tspan></text></g>
<g id="n0005996"><rect class="b" x="757.5" y="1229" width="57" height="38" fill="#ffff00"/><text class="t" y="1241.8"><tspan x="786">GO:0005996</tspan><tspan x="786" dy="5.5">monosaccharide metab...</tspan><tspan x="786" dy="5.5">2.51e-08</tspan><tspan x="786" dy="5.5">11/267</tspan></text></g>
<g id="n0006100"><rect class="b" x="894.5" y="1229" width="57" height="38" fill="#ffff66"/><text class="t" y="1241.8"><tspan x="923">GO:0006100</tspan><tspan x="923" dy="5.5">tricarboxylic acid c...</tspan><tspan x="923" dy="5.5">2.23e-05</tspan><tspan x="923" dy="5.5">4/38</tspan></text></g>
<g id="n0018916"><rect class="b" x="992.5" y="1229" width="57" height="38" fill="#ffffc4"/><text class="t" y="1241.8"><tspan x="1021">GO:0018916</tspan><tspan x="1021" dy="5.5">nitrobenzene metabol...</tspan><tspan x="1021" dy="5.5">0.004347</tspan><tspan x="1021" dy="5.5">1/1</tspan></text></g>
<g id="n0008610"><ellipse class="e" cx="1188" cy="1248" rx="28.5" ry="19"/><text class="te" y="1241.8"><tspan x="1188">GO:0008610</tspan><tspan x="1188" dy="5.5">lipid biosynthetic p...</tspan><tspan x="1188" dy="5.5">0.027717</tspan><tspan x="1188" dy="5.5">6/527</tspan></text></g>
<g id="n0043648"><rect class="b" x="1235.5" y="1229" width="57" height="38" fill="#ffffbb"/><text class="t" y="1241.8"><tspan x="1264">GO:0043648</tspan><tspan x="1264" dy="5.5">dicarboxylic acid me...</tspan><tspan x="1264" dy="5.5">0.002160</tspan><tspan x="1264" dy="5.5">2/16</tspan></text></g>
<g id="n0046394"><rect class="b" x="1311.5" y="1229" width="57" height="38" fill="#ffffc4"/><text class="t" y="1241.8"><tspan x="1340">GO:0046394</tspan><tspan x="1340" dy="5.5">carboxylic acid bios...</tspan><tspan x="1340" dy="5.5">0.004216</tspan><tspan x="1340" dy="5.5">4/150</tspan></text></g>
<g id="n0006520"><rect class="b" x="1386.5" y="1229" width="57" height="38" fill="#ffffc4"/><text class="t" y="1241.8"><tspan x="1415">GO:0006520</tspan><tspan x="1415" dy="5.5">amino acid metabolic...</tspan><tspan x="1415" dy="5.5">0.003433</tspan><tspan x="1415" dy="5.5">7/447</tspan></text></g>
<g id="n0032787"><rect class="b" x="1462.5" y="1229" width="57" height="38" fill="#ff1000"/><text class="t" y="1241.8"><tspan x="1491">GO:0032787</tspan><tspan x="1491" dy="5.5">monocarboxylic acid ...</tspan><tspan x="1491" dy="5.5">&lt; 1e-20</tspan><tspan x="1491" dy="5.5">27/407</tspan></text></g>
<g id="n0009309"><rect class="b" x="1537.5" y="1229" width="57" height="38" fill="#ffffbb"/><text class="t" y="1241.8"><tspan x="1566">GO:0009309</tspan><tspan x="1566" dy="5.5">amine biosynthetic p...</tspan><tspan x="1566" dy="5.5">0.002066</tspan><tspan x="1566" dy="5.5">4/123</tspan></text></g>
<g id="n0006081"><rect class="b" x="1653.5" y="1229" width="57" height="38" fill="#ffff99"/><text class="t" y="1241.8"><tspan x="1682">GO:0006081</tspan><tspan x="1682" dy="5.5">aldehyde metabolic p...</tspan><tspan x="1682" dy="5.5">0.000100</tspan><tspan x="1682" dy="5.5">3/21</tspan></text></g>
<g id="n0007017"><rect class="b" x="1728.5" y="1229" width="57" height="38" fill="#ffff00"/><text class="t" y="1241.8"><tspan x="1757">GO:0007017</tspan><tspan x="1757" dy="5.5">microtubule-based pr...</tspan><tspan x="1757" dy="5.5">3.77e-08</tspan><tspan x="1757" dy="5.5">13/420</tspan></text></g>
<g id="n0030705"><rect class="b" x="1804.5" y="1229" width="57" height="38" fill="#ffee00"/><text class="t" y="1241.8"><tspan x="1833">GO:0030705</tspan><tspan x="1833" dy="5.5">cytoskeleton-depende...</tspan><tspan x="1833" dy="5.5">1.64e-09</tspan><tspan x="1833" dy="5.5">12/261</tspan></text></g>
<g id="n0046724"><rect class="b" x="1880.5" y="1229" width="57" height="38" fill="#ffffc4"/><text class="t" y="1241.8"><tspan x="1909">GO:0046724</tspan><tspan x="1909" dy="5.5">oxalic acid secretio...</tspan><tspan x="1909" dy="5.5">0.004347</tspan><tspan x="1909" dy="5.5">1/1</tspan></text></g>
<g id="n0048873"><rect class="b" x="2043.5" y="1229" width="57" height="38" fill="#ffffc4"/><text class="t" y="1241.8"><tspan x="2072">GO:0048873</tspan><tspan x="2072" dy="5.5">homeostasis of numbe...</tspan><tspan x="2072" dy="5.5">0.004347</tspan><tspan x="2072" dy="5.5">1/1</tspan></text></g>
<g id="n0009060"><rect class="b" x="76.5" y="1431" width="57" height="38" fill="#ffc300"/><text class="t" y="1443.8"><tspan x="105">GO:0009060</tspan><tspan x="105" dy="5.5">aerobic respiration</tspan><tspan x="105" dy="5.5">5.74e-12</tspan><tspan x="105" dy="5.5">9/61</tspan></text></g>
<g id="n0046356"><rect class="b" x="190.5" y="1431" width="57" height="38" fill="#ffb800"/><text class="t" y="1443.8"><tspan x="219">GO:0046356</tspan><tspan x="219" dy="5.5">acetyl-CoA catabolic...</tspan><tspan x="219" dy="5.5">1.01e-13</tspan><tspan x="219" dy="5.5">10/60</tspan></text></g>
<g id="n0019318"><rect class="b" x="746.5" y="1431" width="57" height="38" fill="#ffff00"/><text class="t" y="1443.8"><tspan x="775">GO:0019318</tspan><tspan x="775" dy="5.5">hexose metabolic pro...</tspan><tspan x="775" dy="5.5">2.24e-08</tspan><tspan x="775" dy="5.5">11/264</tspan></text></g>
<g id="n0046365"><rect class="b" x="822.5" y="1431" width="57" height="38" fill="#ffdd00"/><text class="t" y="1443.8"><tspan x="851">GO:0046365</tspan><tspan x="851" dy="5.5">monosaccharide catab...</tspan><tspan x="851" dy="5.5">8.49e-10</tspan><tspan x="851" dy="5.5">9/105</tspan></text></g>
<g id="n0006106"><rect class="b" x="967.5" y="1431" width="57" height="38" fill="#ffffc4"/><text class="t" y="1443.8"><tspan x="996">GO:0006106</tspan><tspan x="996" dy="5.5">fumarate metabolic p...</tspan><tspan x="996" dy="5.5">0.004347</tspan><tspan x="996" dy="5.5">1/1</tspan></text></g>
<g id="n0006631"><rect class="b" x="1222.5" y="1431" width="57" height="38" fill="#ff6000"/><text class="t" y="1443.8"><tspan x="1251">GO:0006631</tspan><tspan x="1251" dy="5.5">fatty acid metabolic...</tspan><tspan x="1251" dy="5.5">1.34e-19</tspan><tspan x="1251" dy="5.5">21/300</tspan></text></g>
<g id="n0008652"><rect class="b" x="1386.5" y="1431" width="57" height="38" fill="#ffff99"/><text class="t" y="1443.8"><tspan x="1415">GO:0008652</tspan><tspan x="1415" dy="5.5">amino acid biosynthe...</tspan><tspan x="1415" dy="5.5">0.000324</tspan><tspan x="1415" dy="5.5">4/75</tspan></text></g>
<g id="n0009064"><ellipse class="e" cx="1530" cy="1450" rx="28.5" ry="19"/><text class="te" y="1443.8"><tspan x="1530">GO:0009064</tspan><tspan x="1530" dy="5.5">glutamine family ami...</tspan><tspan x="1530" dy="5.5">0.019287</tspan><tspan x="1530" dy="5.5">2/49</tspan></text></g>
<g id="n0006090"><rect class="b" x="1577.5" y="1431" width="57" height="38" fill="#ffffbb"/><text class="t" y="1443.8"><tspan x="1606">GO:0006090</tspan><tspan x="1606" dy="5.5">pyruvate metabolic p...</tspan><tspan x="1606" dy="5.5">0.001688</tspan><tspan x="1606" dy="5.5">3/54</tspan></text></g>
<g id="n0046487"><rect class="b" x="1653.5" y="1431" width="57" height="38" fill="#ffff99"/><text class="t" y="1443.8"><tspan x="1682">GO:0046487</tspan><tspan x="1682" dy="5.5">glyoxylate metabolic...</tspan><tspan x="1682" dy="5.5">0.000278</tspan><tspan x="1682" dy="5.5">2/6</tspan></text></g>
<g id="n0007018"><rect class="b" x="1766.5" y="1431" width="57" height="38" fill="#ffdd00"/><text class="t" y="1443.8"><tspan x="1795">GO:0007018</tspan><tspan x="1795" dy="5.5">microtubule-based mo...</tspan><tspan x="1795" dy="5.5">2.32e-10</tspan><tspan x="1795" dy="5.5">12/220</tspan></text></g>
<g id="n0006099"><rect class="b" x="190.5" y="1635" width="57" height="38" fill="#ffc300"/><text class="t" y="1647.8"><tspan x="219">GO:0006099</tspan><tspan x="219" dy="5.5">tricarboxylic acid c...</tspan><tspan x="219" dy="5.5">3.02e-12</tspan><tspan x="219" dy="5.5">9/57</tspan></text></g>
<g id="n0006006"><rect class="b" x="746.5" y="1635" width="57" height="38" fill="#ffee00"/><text class="t" y="1647.8"><tspan x="775">GO:0006006</tspan><tspan x="775" dy="5.5">glucose metabolic pr...</tspan><tspan x="775" dy="5.5">1.18e-09</tspan><tspan x="775" dy="5.5">11/199</tspan></text></g>
<g id="n0019320"><rect class="b" x="822.5" y="1635" width="57" height="38" fill="#ffdd00"/><text class="t" y="1647.8"><tspan x="851">GO:0019320</tspan><tspan x="851" dy="5.5">hexose catabolic pro...</tspan><tspan x="851" dy="5.5">8.49e-10</tspan><tspan x="851" dy="5.5">9/105</tspan></text></g>
<g id="n0046459"><ellipse class="e" cx="1197" cy="1654" rx="28.5" ry="19"/><text class="te" y="1647.8"><tspan x="1197">GO:0046459</tspan><tspan x="1197" dy="5.5">short-chain fatty ac...</tspan><tspan x="1197" dy="5.5">0.017278</tspan><tspan x="1197" dy="5.5">1/4</tspan></text></g>
<g id="n0019395"><rect class="b" x="1243.5" y="1635" width="57" height="38" fill="#ffff00"/><text class="t" y="1647.8"><tspan x="1272">GO:0019395</tspan><tspan x="1272" dy="5.5">fatty acid oxidation</tspan><tspan x="1272" dy="5.5">1.45e-08</tspan><tspan x="1272" dy="5.5">6/38</tspan></text></g>
<g id="n0006633"><rect class="b" x="1319.5" y="1635" width="57" height="38" fill="#ffffc4"/><text class="t" y="1647.8"><tspan x="1348">GO:0006633</tspan><tspan x="1348" dy="5.5">fatty acid biosynthe...</tspan><tspan x="1348" dy="5.5">0.003214</tspan><tspan x="1348" dy="5.5">4/139</tspan></text></g>
<g id="n0009084"><rect class="b" x="1502.5" y="1635" width="57" height="38" fill="#ffffc4"/><text class="t" y="1647.8"><tspan x="1531">GO:0009084</tspan><tspan x="1531" dy="5.5">glutamine family ami...</tspan><tspan x="1531" dy="5.5">0.003382</tspan><tspan x="1531" dy="5.5">2/20</tspan></text></g>
<g id="n0006541"><ellipse class="e" cx="1606" cy="1654" rx="28.5" ry="19"/><text class="te" y="1647.8"><tspan x="1606">GO:0006541</tspan><tspan x="1606" dy="5.5">glutamine metabolic ...</tspan><tspan x="1606" dy="5.5">0.107150</tspan><tspan x="1606" dy="5.5">1/26</tspan></text></g>
<g id="n0006007"><rect class="b" x="784.5" y="1838" width="57" height="38" fill="#ffdd00"/><text class="t" y="1850.8"><tspan x="813">GO:0006007</tspan><tspan x="813" dy="5.5">glucose catabolic pr...</tspan><tspan x="813" dy="5.5">8.49e-10</tspan><tspan x="813" dy="5.5">9/105</tspan></text></g>
<g id="n0006575"><ellipse class="e" cx="1126" cy="1857" rx="28.5" ry="19"/><text class="te" y="1850.8"><tspan x="1126">GO:0006575</tspan><tspan x="1126" dy="5.5">amino acid derivativ...</tspan><tspan x="1126" dy="5.5">0.538759</tspan><tspan x="1126" dy="5.5">1/177</tspan></text></g>
<g id="n0019605"><rect class="b" x="1172.5" y="1838" width="57" height="38" fill="#ffffd0"/><text class="t" y="1850.8"><tspan x="1201">GO:0019605</tspan><tspan x="1201" dy="5.5">butyrate metabolic p...</tspan><tspan x="1201" dy="5.5">0.008676</tspan><tspan x="1201" dy="5.5">1/2</tspan></text></g>
<g id="n0006635"><rect class="b" x="1248.5" y="1838" width="57" height="38" fill="#ffdd00"/><text class="t" y="1850.8"><tspan x="1277">GO:0006635</tspan><tspan x="1277" dy="5.5">fatty acid beta-oxid...</tspan><tspan x="1277" dy="5.5">4.16e-10</tspan><tspan x="1277" dy="5.5">6/22</tspan></text></g>
<g id="n0006542"><rect class="b" x="1539.5" y="1838" width="57" height="38" fill="#ffffd0"/><text class="t" y="1850.8"><tspan x="1568">GO:0006542</tspan><tspan x="1568" dy="5.5">glutamine biosynthet...</tspan><tspan x="1568" dy="5.5">0.008676</tspan><tspan x="1568" dy="5.5">1/2</tspan></text></g>
<g id="n0006096"><rect class="b" x="784.5" y="2040" width="57" height="38" fill="#ffdd00"/><text class="t" y="2052.8"><tspan x="813">GO:0006096</tspan><tspan x="813" dy="5.5">glycolysis</tspan><tspan x="813" dy="5.5">2.33e-10</tspan><tspan x="813" dy="5.5">9/91</tspan></text></g>
<g id="n0009448"><rect class="b" x="1172.5" y="2040" width="57" height="38" fill="#ffffd0"/><text class="t" y="2052.8"><tspan x="1201">GO:0009448</tspan><tspan x="1201" dy="5.5">gamma-aminobutyric a...</tspan><tspan x="1201" dy="5.5">0.008676</tspan><tspan x="1201" dy="5.5">1/2</tspan></text></g>
</g>
</svg>
